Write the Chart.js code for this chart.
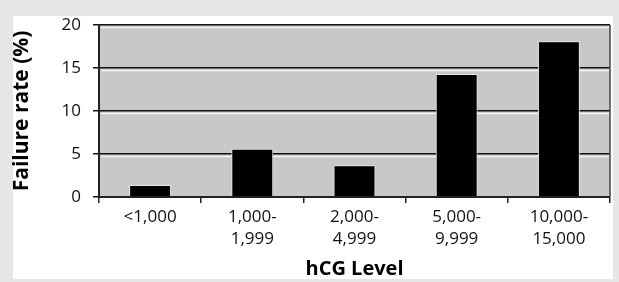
<!DOCTYPE html>
<html>
<head>
<meta charset="utf-8">
<script src="https://cdn.jsdelivr.net/npm/chart.js@4"></script>
<style>
  html, body { margin: 0; padding: 0; background: #e6e6e6; }
  #panel { position: absolute; left: 13px; top: 16px; width: 600px; height: 263px; background: #fff; }
  #chart { position: absolute; left: 0; top: 0; }
</style>
</head>
<body>
<div id="panel"></div>
<canvas id="chart" width="619" height="282"></canvas>
<script>
// data
const categories = [["<1,000"], ["1,000-", "1,999"], ["2,000-", "4,999"], ["5,000-", "9,999"], ["10,000-", "15,000"]];
const failureRate = [1.4, 5.6, 3.7, 14.3, 18.1];
const yTicks = [0, 5, 10, 15, 20];

// grey plot background, white shadow under each grid line, frame
const plotStyle = {
  id: "plotStyle",
  beforeDraw(chart) {
    const a = chart.chartArea, c = chart.ctx;
    c.save();
    c.fillStyle = "#c8c8c8";
    c.fillRect(a.left, a.top, a.right - a.left, a.bottom - a.top);
    c.restore();
  },
  beforeDatasetsDraw(chart) {
    const a = chart.chartArea, c = chart.ctx, y = chart.scales.y;
    c.save();
    c.strokeStyle = "#f2f2f2";
    c.lineWidth = 1.5;
    yTicks.forEach(v => {
      if (v === 0) return;
      const py = y.getPixelForValue(v) + 2.5;
      c.beginPath();
      c.moveTo(a.left + 2, py);
      c.lineTo(a.right - 1, py);
      c.stroke();
    });
    c.strokeStyle = "#444";
    c.lineWidth = 1.5;
    c.beginPath();
    c.moveTo(a.right, a.top);
    c.lineTo(a.right, a.bottom);
    c.stroke();
    c.restore();
  }
};

new Chart(document.getElementById("chart"), {
  type: "bar",
  data: {
    labels: categories,
    datasets: [{
      data: failureRate,
      backgroundColor: "#000",
      borderColor: "#e8e8e8",
      borderWidth: 1,
      categoryPercentage: 1,
      barPercentage: 0.41
    }]
  },
  options: {
    responsive: false,
    animation: false,
    layout: { padding: { left: 0, top: 25, right: 9, bottom: 0 } },
    plugins: { legend: { display: false }, tooltip: { enabled: false } },
    scales: {
      x: {
        afterFit(s) { s.height = 85; },
        grid: { offset: true, drawOnChartArea: false, color: "#222", tickLength: 6, lineWidth: 1.5 },
        border: { color: "#222", width: 2 },
        ticks: { color: "#111", padding: 4, font: { family: "Open Sans", size: 17, lineHeight: 1.25 }, maxRotation: 0 },
        title: { display: true, text: "hCG Level", color: "#000", padding: { top: 0, bottom: 1 },
                 font: { family: "Open Sans", size: 20, weight: "bold" } }
      },
      y: {
        min: 0, max: 20,
        afterFit(s) { s.width = 99; },
        afterBuildTicks(s) { s.ticks = yTicks.map(v => ({ value: v })); },
        grid: { color: "#111", lineWidth: 1.5, tickLength: 6 },
        border: { color: "#222", width: 2 },
        ticks: { color: "#111", padding: 12, font: { family: "Open Sans", size: 17 } },
        title: { display: true, text: "Failure rate (%)", color: "#000", padding: { top: 9, bottom: 0 },
                 font: { family: "Open Sans", size: 21, weight: "bold" } }
      }
    }
  },
  plugins: [plotStyle]
});
</script>
</body>
</html>
